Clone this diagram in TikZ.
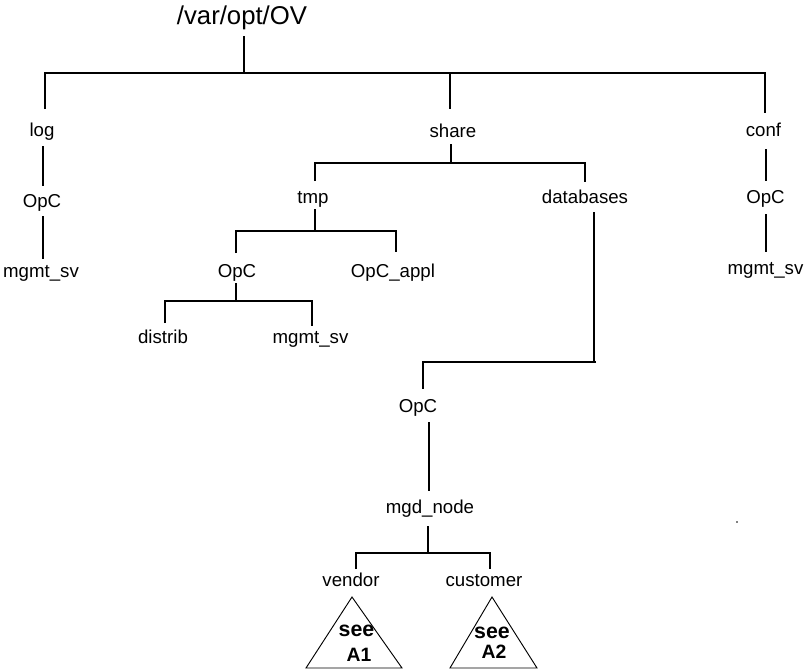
\documentclass[tikz,border=0pt]{standalone}
\usepackage{fontspec}
\setmainfont{Liberation Sans}
\tikzset{
  lbl/.style={inner sep=0pt,font=\fontsize{14pt}{16pt}\selectfont,anchor=base},
  big/.style={inner sep=0pt,font=\fontsize{19.3pt}{22pt}\selectfont,anchor=base},
  seetxt/.style={inner sep=0pt,font=\fontsize{16pt}{18pt}\selectfont\bfseries,anchor=base},
  atxt/.style={inner sep=0pt,font=\fontsize{14.5pt}{16pt}\selectfont\bfseries,anchor=base},
  wire/.style={line width=1.3pt,line cap=butt,line join=miter},
  tri/.style={line width=0.7pt,line join=miter}
}
\begin{document}
\begin{tikzpicture}[x=0.75pt,y=-0.75pt]
\useasboundingbox (0,0) rectangle (804,671);
\node[big] (root) at (242,24) {/var/opt/OV};
\node[lbl] (log) at (42,136) {log};
\node[lbl] (share) at (453,137) {share};
\node[lbl] (conf) at (763.5,136) {conf};
\node[lbl] (opc1) at (42,207) {OpC};
\node[lbl] (ms1) at (41,277) {mgmt\_sv};
\node[lbl] (tmp) at (313,203) {tmp};
\node[lbl] (db) at (585,203) {databases};
\node[lbl] (opc2) at (765.5,203) {OpC};
\node[lbl] (ms2) at (765.5,274) {mgmt\_sv};
\node[lbl] (opc3) at (237,277) {OpC};
\node[lbl] (appl) at (393,277) {OpC\_appl};
\node[lbl] (dist) at (163,343) {distrib};
\node[lbl] (ms3) at (310.5,343) {mgmt\_sv};
\node[lbl] (opc4) at (418,412) {OpC};
\node[lbl] (mgd) at (430,513) {mgd\_node};
\node[lbl] (vend) at (351,586) {vendor};
\node[lbl] (cust) at (484,586) {customer};
\coordinate (rt) at (244,36);
\coordinate (rj) at (244,73);
\coordinate (hl) at (45,73);
\coordinate (hr) at (765,73);
\coordinate (lgt) at (45,109);
\coordinate (sht) at (450,109);
\coordinate (sj) at (450,73);
\coordinate (cft) at (765,113);
\draw[wire] (rt) -- (rj);
\draw[wire] (lgt) -- (hl) -- (hr) -- (cft);
\draw[wire] (sj) -- (sht);
\coordinate (a1) at (43,146); \coordinate (a2) at (43,186);
\draw[wire] (a1) -- (a2);
\coordinate (b1) at (43,216); \coordinate (b2) at (43,259);
\draw[wire] (b1) -- (b2);
\coordinate (c1) at (766,149); \coordinate (c2) at (766,181);
\draw[wire] (c1) -- (c2);
\coordinate (d1) at (766,214); \coordinate (d2) at (766,252);
\draw[wire] (d1) -- (d2);
\coordinate (e0) at (451,144); \coordinate (e1) at (451,163);
\coordinate (e2) at (315,163); \coordinate (e3) at (315,181);
\coordinate (e4) at (585,163); \coordinate (e5) at (585,182);
\draw[wire] (e0) -- (e1);
\draw[wire] (e3) -- (e2) -- (e4) -- (e5);
\coordinate (f0) at (315,209); \coordinate (f1) at (315,231);
\coordinate (f2) at (236,231); \coordinate (f3) at (236,253);
\coordinate (f4) at (396,231); \coordinate (f5) at (396,252);
\draw[wire] (f0) -- (f1);
\draw[wire] (f3) -- (f2) -- (f4) -- (f5);
\coordinate (g0) at (236,283); \coordinate (g1) at (236,301);
\coordinate (g2) at (165,301); \coordinate (g3) at (165,323);
\coordinate (g4) at (312,301); \coordinate (g5) at (312,326);
\draw[wire] (g0) -- (g1);
\draw[wire] (g3) -- (g2) -- (g4) -- (g5);
\coordinate (h0) at (594,212); \coordinate (h1) at (594,362);
\coordinate (h1b) at (596,362);
\coordinate (h2) at (423,362); \coordinate (h3) at (423,389);
\draw[wire] (h0) -- (h1);
\draw[wire] (h1b) -- (h2) -- (h3);
\coordinate (i0) at (429,422); \coordinate (i1) at (429,491);
\draw[wire] (i0) -- (i1);
\coordinate (j0) at (428,526); \coordinate (j1) at (428,553);
\coordinate (j2) at (356,553); \coordinate (j3) at (356,569);
\coordinate (j4) at (490,553); \coordinate (j5) at (490,569);
\draw[wire] (j0) -- (j1);
\draw[wire] (j3) -- (j2) -- (j4) -- (j5);
\draw[tri] (352,597) -- (306,668) -- (402,668) -- cycle;
\draw[tri] (492,597) -- (450,668) -- (537,668) -- cycle;
\node[seetxt] (s1) at (356.5,636) {see};
\node[atxt] (t1) at (359,661) {A1};
\node[seetxt] (s2) at (492,638) {see};
\node[atxt] (t2) at (494,658) {A2};
\fill (737,522) circle (0.8);
\end{tikzpicture}
\end{document}
